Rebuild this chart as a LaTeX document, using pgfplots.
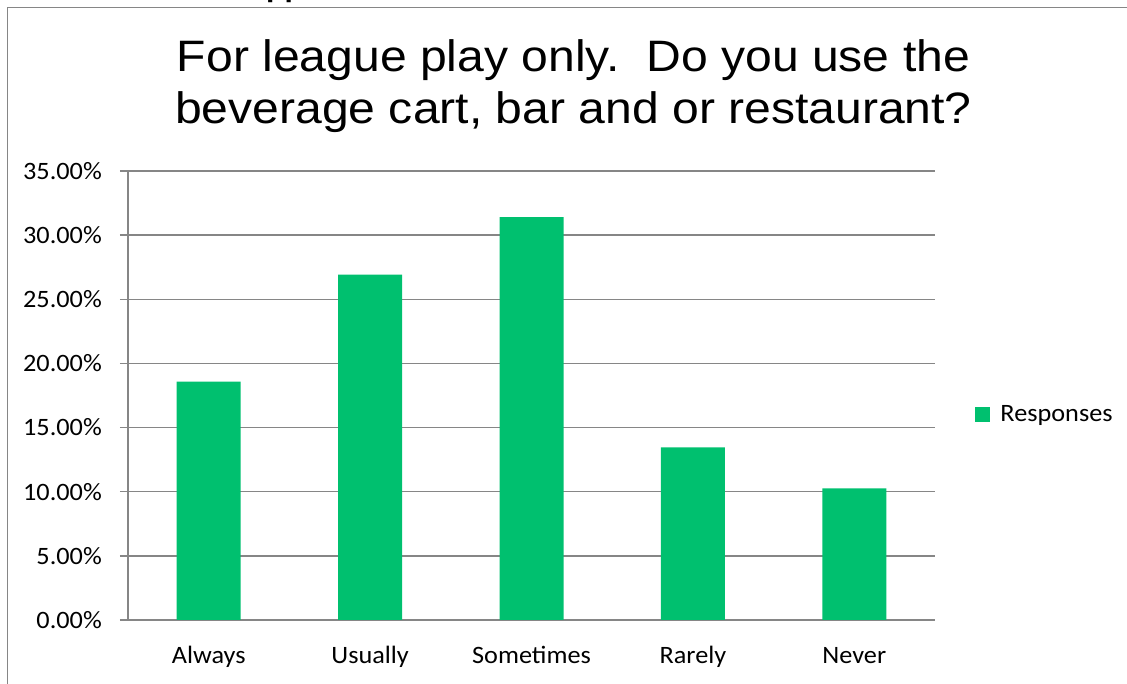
\documentclass[border=0pt]{standalone}
\usepackage{fontspec}
\setmainfont{Carlito}
\newfontfamily\titlefont{Liberation Sans}
\usepackage{graphicx}
\usepackage{pgfplots}
\pgfplotsset{compat=1.18}
\definecolor{barc}{RGB}{0,192,111}
\definecolor{gridc}{RGB}{134,134,134}
\newcommand{\sx}[1]{\scalebox{1.05}[1]{#1}}
\begin{document}
\begin{tikzpicture}[x=1pt,y=1pt]
\useasboundingbox (0,0) rectangle (1127,684);
\draw[gridc, line width=1.5pt] (7.5,-5) -- (7.5,676.5) -- (1135,676.5);
\node[font=\titlefont\bfseries\fontsize{30}{36}\selectfont, anchor=base west, inner sep=0pt] at (266,687) {pp};
\node[font=\titlefont\fontsize{44}{52}\selectfont, anchor=base, inner sep=0pt] at (573.5,612) {\scalebox{1.093}[1]{For league play only.\ \ Do you use the}};
\node[font=\titlefont\fontsize{44}{52}\selectfont, anchor=base, inner sep=0pt] at (573.5,560) {\scalebox{1.093}[1]{beverage cart, bar and or restaurant?}};
\begin{axis}[
  at={(128pt,64pt)}, anchor=south west, scale only axis,
  width=807pt, height=449pt,
  ymin=0, ymax=35, xmin=-0.5, xmax=4.5,
  axis x line=bottom, axis y line=left,
  axis line style={gridc, line width=1.5pt, -},
  ytick={0,5,...,35},
  yticklabel={\sx{\pgfmathprintnumber[fixed,fixed zerofill,precision=2]{\tick}\%}},
  ymajorgrids, grid style={gridc, line width=1.5pt},
  xtick={0,...,4},
  x tick style={draw=none},
  extra x ticks={-0.5,0.5,1.5,2.5,3.5,4.5},
  extra x tick labels={},
  extra x tick style={tick style={gridc, line width=1.5pt, draw=gridc}, grid=none},
  y tick style={gridc, line width=1.5pt},
  major tick length=8pt, tick align=outside,
  tick label style={font=\fontsize{25}{30}\selectfont},
  yticklabel style={anchor=east, inner sep=0pt, xshift=-18pt},
  xticklabel style={anchor=base, inner sep=0pt, yshift=-36pt},
  xticklabels={\sx{Always},\sx{Usually},\sx{Sometimes},\sx{Rarely},\sx{Never}},
  /pgf/number format/assume math mode=true,
  ybar, bar width=64pt,
  legend style={at={(1.0499,0.458)}, anchor=west, draw=none, fill=none, inner sep=0pt, font=\fontsize{25}{30}\selectfont},
  legend image code/.code={\fill[barc] (0pt,-7.5pt) rectangle (15pt,7.5pt);},
]
\addplot[fill=barc, draw=none] coordinates {(0,18.59) (1,26.92) (2,31.41) (3,13.46) (4,10.26)};
\addlegendentry{\hspace{8pt}\sx{Responses}}
\end{axis}
\end{tikzpicture}
\end{document}
